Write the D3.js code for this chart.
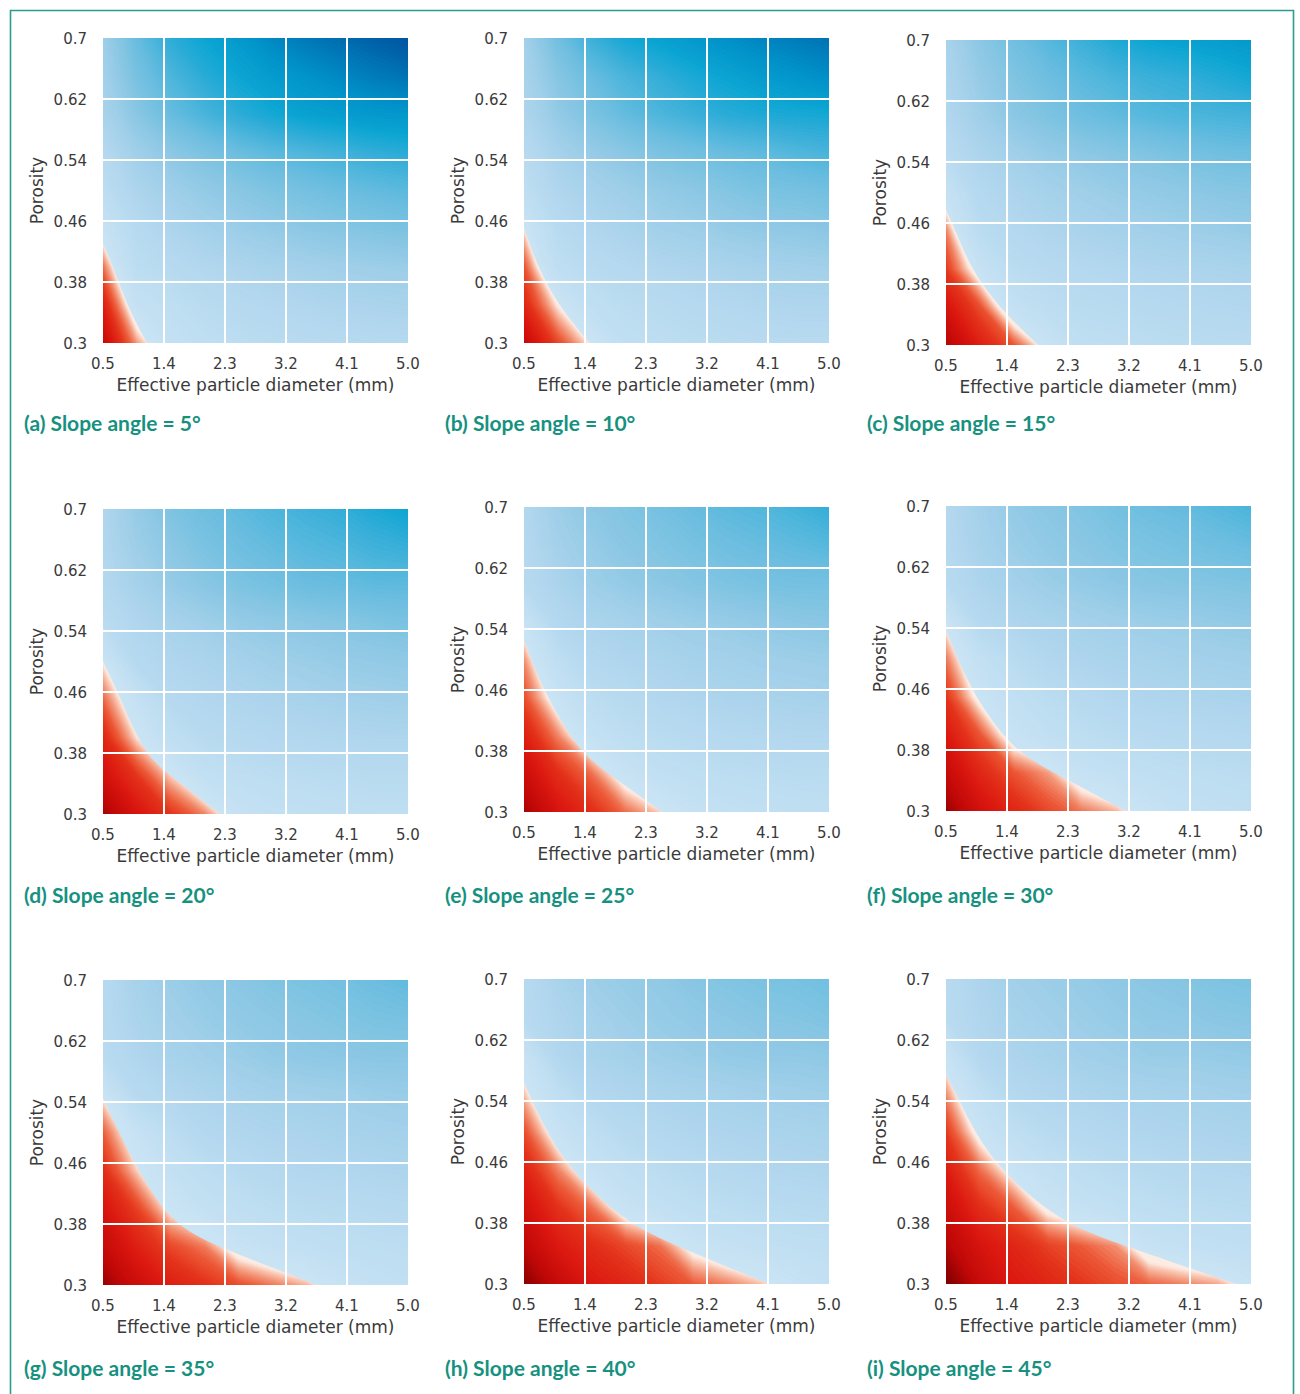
<!DOCTYPE html>
<html><head><meta charset="utf-8">
<script src="https://cdn.jsdelivr.net/npm/d3@7"></script>
<style>body{margin:0;background:#fff} svg{display:block}</style>
</head><body><div id="chart"></div>
<script>
// ---------- data ----------
const diameters = [0.5, 1.0, 1.5, 2.0, 2.5, 3.0, 3.5, 4.0, 4.5, 5.0];
const porosities = [0.30, 0.35, 0.40, 0.45, 0.50, 0.55, 0.60, 0.65, 0.70];
const slopeAngles = [5, 10, 15, 20, 25, 30, 35, 40, 45];
const panelLetters = ["a", "b", "c", "d", "e", "f", "g", "h", "i"];
const xTicks = [0.5, 1.4, 2.3, 3.2, 4.1, 5.0];
const xTickLabels = ["0.5", "1.4", "2.3", "3.2", "4.1", "5.0"];
const yTicks = [0.3, 0.38, 0.46, 0.54, 0.62, 0.7];
const yTickLabels = ["0.3", "0.38", "0.46", "0.54", "0.62", "0.7"];
const xTitle = "Effective particle diameter (mm)";
const yTitle = "Porosity";

// rows: porosity 0.30 -> 0.70, columns: diameter 0.5 -> 5.0
const values5 = [
  [-0.17, -0.03, 0.06, 0.10, 0.12, 0.14, 0.15, 0.16, 0.17, 0.17],
  [-0.12, 0.05, 0.10, 0.14, 0.17, 0.19, 0.21, 0.23, 0.24, 0.25],
  [-0.05, 0.12, 0.16, 0.20, 0.23, 0.26, 0.28, 0.30, 0.31, 0.32],
  [0.033, 0.16, 0.23, 0.28, 0.32, 0.35, 0.38, 0.40, 0.42, 0.44],
  [0.11, 0.23, 0.30, 0.35, 0.39, 0.43, 0.46, 0.49, 0.51, 0.53],
  [0.17, 0.30, 0.38, 0.44, 0.49, 0.53, 0.56, 0.59, 0.62, 0.64],
  [0.25, 0.39, 0.50, 0.57, 0.63, 0.68, 0.72, 0.74, 0.76, 0.77],
  [0.28, 0.45, 0.56, 0.64, 0.70, 0.75, 0.79, 0.83, 0.87, 0.90],
  [0.30, 0.50, 0.63, 0.70, 0.76, 0.83, 0.88, 0.92, 0.96, 1.00]
];
const values10 = [
  [-0.17, -0.075, 0.005, 0.09, 0.11, 0.13, 0.14, 0.15, 0.15, 0.15],
  [-0.11, 0.002, 0.09, 0.13, 0.15, 0.17, 0.19, 0.21, 0.22, 0.22],
  [-0.067, 0.10, 0.15, 0.18, 0.21, 0.23, 0.25, 0.27, 0.28, 0.29],
  [-0.002, 0.15, 0.21, 0.25, 0.29, 0.31, 0.34, 0.36, 0.37, 0.39],
  [0.10, 0.21, 0.27, 0.31, 0.35, 0.38, 0.41, 0.44, 0.45, 0.47],
  [0.15, 0.27, 0.34, 0.39, 0.44, 0.47, 0.50, 0.52, 0.55, 0.57],
  [0.22, 0.35, 0.44, 0.51, 0.56, 0.60, 0.64, 0.66, 0.67, 0.68],
  [0.25, 0.40, 0.50, 0.57, 0.62, 0.67, 0.71, 0.75, 0.78, 0.81],
  [0.28, 0.47, 0.60, 0.68, 0.72, 0.76, 0.80, 0.84, 0.87, 0.90]
];
const values15 = [
  [-0.19, -0.12, -0.064, 0.025, 0.10, 0.11, 0.12, 0.13, 0.14, 0.14],
  [-0.14, -0.07, 0.06, 0.11, 0.14, 0.15, 0.17, 0.18, 0.19, 0.20],
  [-0.085, 0.035, 0.13, 0.16, 0.18, 0.20, 0.22, 0.23, 0.24, 0.25],
  [-0.041, 0.13, 0.18, 0.22, 0.25, 0.27, 0.29, 0.31, 0.32, 0.34],
  [0.04, 0.18, 0.23, 0.27, 0.30, 0.33, 0.35, 0.37, 0.39, 0.40],
  [0.14, 0.23, 0.29, 0.34, 0.37, 0.40, 0.42, 0.45, 0.47, 0.48],
  [0.20, 0.30, 0.38, 0.43, 0.48, 0.51, 0.54, 0.56, 0.57, 0.58],
  [0.22, 0.34, 0.42, 0.48, 0.53, 0.57, 0.60, 0.62, 0.65, 0.68],
  [0.25, 0.38, 0.47, 0.54, 0.60, 0.66, 0.70, 0.72, 0.74, 0.76]
];
const values20 = [
  [-0.20, -0.14, -0.09, -0.04, 0.04, 0.07, 0.08, 0.09, 0.10, 0.10],
  [-0.15, -0.09, -0.01, 0.07, 0.10, 0.12, 0.13, 0.14, 0.15, 0.15],
  [-0.11, -0.003, 0.09, 0.15, 0.17, 0.19, 0.20, 0.21, 0.22, 0.22],
  [-0.055, 0.05, 0.17, 0.20, 0.22, 0.24, 0.26, 0.28, 0.29, 0.30],
  [0.002, 0.17, 0.21, 0.24, 0.27, 0.30, 0.32, 0.34, 0.35, 0.36],
  [0.13, 0.21, 0.26, 0.30, 0.34, 0.36, 0.38, 0.40, 0.42, 0.44],
  [0.18, 0.27, 0.34, 0.39, 0.43, 0.46, 0.49, 0.50, 0.52, 0.52],
  [0.20, 0.31, 0.38, 0.44, 0.48, 0.51, 0.54, 0.56, 0.59, 0.61],
  [0.21, 0.34, 0.43, 0.48, 0.52, 0.56, 0.59, 0.62, 0.66, 0.70]
];
const values25 = [
  [-0.20, -0.14, -0.10, -0.05, -0.01, 0.04, 0.07, 0.08, 0.09, 0.10],
  [-0.16, -0.10, -0.05, 0.03, 0.08, 0.10, 0.12, 0.13, 0.14, 0.14],
  [-0.12, -0.04, 0.05, 0.11, 0.14, 0.16, 0.18, 0.19, 0.20, 0.20],
  [-0.07, 0.03, 0.12, 0.16, 0.20, 0.22, 0.24, 0.25, 0.26, 0.27],
  [-0.035, 0.10, 0.19, 0.22, 0.24, 0.27, 0.28, 0.30, 0.31, 0.32],
  [0.03, 0.19, 0.24, 0.27, 0.30, 0.32, 0.34, 0.36, 0.38, 0.39],
  [0.16, 0.24, 0.31, 0.35, 0.38, 0.41, 0.43, 0.45, 0.46, 0.46],
  [0.18, 0.28, 0.34, 0.39, 0.42, 0.45, 0.48, 0.50, 0.52, 0.54],
  [0.19, 0.31, 0.38, 0.42, 0.46, 0.50, 0.53, 0.55, 0.58, 0.62]
];
const values30 = [
  [-0.21, -0.15, -0.11, -0.075, -0.045, -0.02, 0.03, 0.06, 0.08, 0.09],
  [-0.17, -0.11, -0.065, -0.03, 0.04, 0.07, 0.09, 0.11, 0.12, 0.13],
  [-0.13, -0.065, 0.035, 0.08, 0.11, 0.14, 0.16, 0.17, 0.18, 0.19],
  [-0.09, 0.02, 0.08, 0.13, 0.17, 0.20, 0.22, 0.23, 0.24, 0.25],
  [-0.045, 0.07, 0.14, 0.20, 0.23, 0.25, 0.26, 0.28, 0.29, 0.30],
  [0.014, 0.18, 0.22, 0.25, 0.28, 0.30, 0.32, 0.33, 0.35, 0.36],
  [0.15, 0.23, 0.28, 0.32, 0.35, 0.38, 0.40, 0.41, 0.42, 0.43],
  [0.17, 0.26, 0.32, 0.36, 0.39, 0.42, 0.44, 0.46, 0.48, 0.50],
  [0.18, 0.28, 0.35, 0.39, 0.42, 0.46, 0.49, 0.51, 0.54, 0.57]
];
const values35 = [
  [-0.21, -0.16, -0.12, -0.095, -0.07, -0.045, -0.02, 0.03, 0.06, 0.08],
  [-0.17, -0.12, -0.075, -0.045, 0.03, 0.06, 0.08, 0.10, 0.11, 0.12],
  [-0.14, -0.08, 0.007, 0.06, 0.09, 0.12, 0.14, 0.15, 0.16, 0.17],
  [-0.10, -0.01, 0.06, 0.11, 0.15, 0.18, 0.20, 0.21, 0.22, 0.23],
  [-0.06, 0.04, 0.12, 0.19, 0.21, 0.23, 0.24, 0.26, 0.27, 0.28],
  [0.005, 0.16, 0.20, 0.23, 0.26, 0.28, 0.29, 0.30, 0.32, 0.33],
  [0.14, 0.21, 0.26, 0.29, 0.32, 0.35, 0.37, 0.38, 0.39, 0.39],
  [0.16, 0.24, 0.29, 0.33, 0.36, 0.38, 0.40, 0.42, 0.44, 0.45],
  [0.16, 0.26, 0.32, 0.36, 0.39, 0.42, 0.44, 0.46, 0.49, 0.52]
];
const values40 = [
  [-0.22, -0.17, -0.13, -0.11, -0.085, -0.06, -0.04, -0.015, 0.03, 0.06],
  [-0.18, -0.13, -0.10, -0.075, -0.05, 0.02, 0.05, 0.07, 0.09, 0.10],
  [-0.15, -0.095, -0.05, 0.03, 0.07, 0.10, 0.12, 0.14, 0.15, 0.16],
  [-0.115, -0.04, 0.04, 0.09, 0.13, 0.16, 0.18, 0.20, 0.21, 0.22],
  [-0.07, 0.03, 0.10, 0.16, 0.19, 0.22, 0.23, 0.24, 0.25, 0.26],
  [-0.015, 0.09, 0.19, 0.22, 0.24, 0.26, 0.27, 0.29, 0.30, 0.31],
  [0.03, 0.20, 0.25, 0.28, 0.31, 0.33, 0.35, 0.36, 0.36, 0.37],
  [0.15, 0.22, 0.27, 0.31, 0.34, 0.36, 0.38, 0.40, 0.41, 0.43],
  [0.16, 0.25, 0.31, 0.34, 0.36, 0.40, 0.42, 0.44, 0.45, 0.47]
];
const values45 = [
  [-0.23, -0.17, -0.13, -0.11, -0.09, -0.07, -0.055, -0.04, -0.025, 0.02],
  [-0.19, -0.14, -0.11, -0.08, -0.06, -0.035, 0.04, 0.06, 0.08, 0.09],
  [-0.16, -0.10, -0.06, 0.015, 0.05, 0.08, 0.10, 0.12, 0.13, 0.14],
  [-0.125, -0.05, 0.02, 0.07, 0.11, 0.14, 0.16, 0.18, 0.19, 0.20],
  [-0.085, 0.022, 0.09, 0.15, 0.18, 0.20, 0.22, 0.23, 0.24, 0.25],
  [-0.035, 0.08, 0.18, 0.21, 0.23, 0.25, 0.26, 0.27, 0.28, 0.29],
  [0.025, 0.19, 0.23, 0.26, 0.29, 0.31, 0.33, 0.33, 0.34, 0.35],
  [0.14, 0.21, 0.26, 0.29, 0.32, 0.34, 0.36, 0.37, 0.39, 0.40],
  [0.15, 0.23, 0.29, 0.32, 0.34, 0.37, 0.39, 0.41, 0.43, 0.44]
];
const panelValues = [values5, values10, values15, values20, values25, values30, values35, values40, values45];

// zero-value boundary of the red zone: [diameter, porosity]
const boundary5 = [[0.5, 0.43], [0.65, 0.40], [0.85, 0.35], [1.15, 0.30]];
const boundary10 = [[0.5, 0.451], [0.7, 0.40], [1.0, 0.35], [1.47, 0.30]];
const boundary15 = [[0.5, 0.477], [0.64, 0.45], [0.87, 0.40], [1.27, 0.35], [1.86, 0.30]];
const boundary20 = [[0.5, 0.50], [0.72, 0.46], [1.09, 0.38], [1.5, 0.35], [2.23, 0.30]];
const boundary25 = [[0.5, 0.525], [0.78, 0.46], [1.30, 0.38], [1.75, 0.35], [2.54, 0.30]];
const boundary30 = [[0.5, 0.537], [0.85, 0.46], [1.47, 0.38], [2.1, 0.35], [3.16, 0.30]];
const boundary35 = [[0.5, 0.545], [0.95, 0.46], [1.5, 0.38], [2.2, 0.35], [3.66, 0.30]];
const boundary40 = [[0.5, 0.564], [1.03, 0.46], [2.0, 0.38], [2.75, 0.35], [4.12, 0.30]];
const boundary45 = [[0.5, 0.575], [0.7, 0.54], [1.15, 0.46], [2.18, 0.38], [3.15, 0.35], [4.78, 0.30]];
const panelBoundaries = [boundary5, boundary10, boundary15, boundary20, boundary25, boundary30, boundary35, boundary40, boundary45];

// ---------- style / layout ----------
const W = 1300, H = 1394;
const colLeft = [103, 524, 946];
const panelTop = [38, 38, 40, 509, 507, 506, 980, 979, 979];
const plotW = 305, plotH = 305;
const captionBaseline = [431, 903, 1376];
const teal = "#17917f";
const redStops = [-0.23, -0.18, -0.13, -0.09, -0.06, -0.035, -0.015, 0];
const redColors = ["#7a0000", "#c00808", "#db1810", "#e4341c", "#ec5a38", "#f28e70", "#f8c0aa", "#fdece4"];
const blueStops = [0, 0.1, 0.2, 0.3, 0.4, 0.5, 0.6, 0.7, 0.8, 0.9, 1.0];
const blueColors = ["#c9e4f4", "#bfdef2", "#b2d7ee", "#a0cfe9", "#87c6e3", "#68bddf", "#3cb0d9", "#0ca5d3", "#0091c8", "#0072b4", "#0054a0"];
const redScale = d3.scaleLinear().domain(redStops).range(redColors).clamp(true);
const blueScale = d3.scaleLinear().domain(blueStops).range(blueColors).clamp(true);

const redThresholds = d3.range(-50, 1).map(k => k * 0.005);
const blueThresholds = d3.range(1, 101).map(k => k * 0.01);
const redColor = t => t >= 0 ? redColors[redColors.length - 1] : redScale(t + 0.0025);
const blueColor = t => blueScale(t + 0.005);

const svg = d3.select("#chart").append("svg").attr("width", W).attr("height", H);
svg.append("rect").attr("width", W).attr("height", H).attr("fill", "#fff");

// outer frame
svg.append("path")
  .attr("d", `M10.5,${H} L10.5,10.5 L1293.5,10.5 L1293.5,${H}`)
  .attr("fill", "none").attr("stroke", "#2a9d90").attr("stroke-width", 1.6);

const nx = diameters.length, ny = porosities.length;
const redGen = d3.contours().size([nx, ny]).thresholds(redThresholds);
const blueGen = d3.contours().size([nx, ny]).thresholds(blueThresholds);
const gx = d3.scaleLinear().domain([0.5, nx - 0.5]).range([diameters[0], diameters[nx - 1]]);
const gy = d3.scaleLinear().domain([0.5, ny - 0.5]).range([porosities[0], porosities[ny - 1]]);
const defs = svg.append("defs");

panelValues.forEach((grid, k) => {
  const col = k % 3, row = Math.floor(k / 3);
  const left = colLeft[col], top = panelTop[k];
  const x = d3.scaleLinear().domain([0.5, 5.0]).range([left, left + plotW]);
  const y = d3.scaleLinear().domain([0.3, 0.7]).range([top + plotH, top]);
  const g = svg.append("g");

  defs.append("clipPath").attr("id", "plot" + k).append("rect")
    .attr("x", left).attr("y", top).attr("width", plotW).attr("height", plotH);

  // red zone mask (smooth zero boundary + margin strips outside the plot)
  const bnd = panelBoundaries[k];
  const area = d3.area().x(p => x(p[0])).y0(y(0.3)).y1(p => y(p[1])).curve(d3.curveBasis);
  const m = defs.append("mask").attr("id", "red" + k)
    .attr("maskUnits", "userSpaceOnUse").attr("x", 0).attr("y", 0).attr("width", W).attr("height", H);
  m.append("path").attr("d", area(bnd)).attr("fill", "#fff");
  m.append("rect").attr("x", left - 8).attr("y", y(bnd[0][1])).attr("width", 8)
    .attr("height", y(0.3) - y(bnd[0][1]) + 8).attr("fill", "#fff");
  m.append("rect").attr("x", left - 8).attr("y", y(0.3)).attr("width", x(bnd[bnd.length - 1][0]) - left + 8)
    .attr("height", 8).attr("fill", "#fff");

  const flat = [];
  grid.forEach(r => r.forEach(v => flat.push(v)));
  const proj = d3.geoTransform({
    point(px, py) { this.stream.point(x(gx(px)), y(gy(py))); }
  });
  const path = d3.geoPath(proj);

  const heat = g.append("g").attr("clip-path", `url(#plot${k})`);
  const blue = heat.append("g");
  blue.append("rect").attr("x", left - 5).attr("y", top - 5).attr("width", plotW + 10).attr("height", plotH + 10)
    .attr("fill", blueColor(0));
  blue.selectAll("path").data(blueGen(flat)).join("path")
    .attr("d", path)
    .attr("fill", d => blueColor(d.value))
    .attr("stroke", d => blueColor(d.value))
    .attr("stroke-width", 0.3);
  const red = heat.append("g").attr("mask", `url(#red${k})`);
  red.selectAll("path").data(redGen(flat)).join("path")
    .attr("d", path)
    .attr("fill", d => redColor(d.value))
    .attr("stroke", d => redColor(d.value))
    .attr("stroke-width", 0.3);

  // grid lines
  g.append("g").selectAll("line").data(xTicks.slice(1, -1)).join("line")
    .attr("x1", d => x(d)).attr("x2", d => x(d)).attr("y1", top).attr("y2", top + plotH)
    .attr("stroke", "#fff").attr("stroke-width", 2);
  g.append("g").selectAll("line").data(yTicks.slice(1, -1)).join("line")
    .attr("y1", d => y(d)).attr("y2", d => y(d)).attr("x1", left).attr("x2", left + plotW)
    .attr("stroke", "#fff").attr("stroke-width", 2);

  // tick labels
  const tickFont = "'DejaVu Sans', sans-serif";
  g.append("g").selectAll("text").data(xTicks).join("text")
    .attr("x", d => x(d)).attr("y", top + plotH + 25.5)
    .attr("text-anchor", "middle").attr("font-family", tickFont).attr("font-size", 15)
    .attr("fill", "#3a3a3a").text((d, i) => xTickLabels[i]);
  g.append("g").selectAll("text").data(yTicks).join("text")
    .attr("x", left - 16).attr("y", d => y(d) + 5.5)
    .attr("text-anchor", "end").attr("font-family", tickFont).attr("font-size", 15)
    .attr("fill", "#3a3a3a").text((d, i) => yTickLabels[i]);

  // axis titles
  g.append("text").attr("x", left + plotW / 2).attr("y", top + plotH + 48)
    .attr("text-anchor", "middle").attr("font-family", tickFont).attr("font-size", 17)
    .attr("fill", "#3a3a3a").text(xTitle);
  g.append("text")
    .attr("transform", `translate(${left - 60},${top + plotH / 2}) rotate(-90)`)
    .attr("text-anchor", "middle").attr("font-family", tickFont).attr("font-size", 17)
    .attr("fill", "#3a3a3a").text(yTitle);

  // caption
  g.append("text").attr("x", left - 79).attr("y", captionBaseline[row])
    .attr("font-family", "Lato, 'Open Sans', sans-serif").attr("font-weight", 700)
    .attr("font-size", 21).attr("fill", teal)
    .text(`(${panelLetters[k]}) Slope angle = ${slopeAngles[k]}°`);
});
</script>
</body></html>
